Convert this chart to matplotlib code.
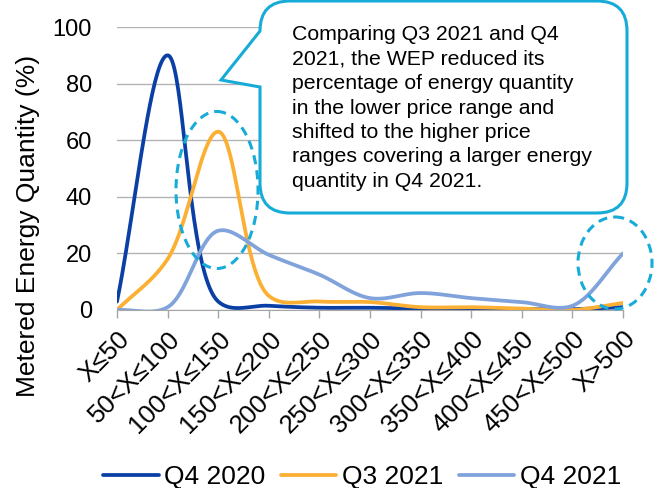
import numpy as np
import matplotlib
matplotlib.use("Agg")
import matplotlib.pyplot as plt
from matplotlib.path import Path
from matplotlib.patches import PathPatch, Ellipse
from matplotlib.transforms import Affine2D

plt.rcParams["font.family"] = ["Liberation Sans", "DejaVu Sans"]

# ── Data ──────────────────────────────────────────────────────────────────────
categories = ["X≤50", "50<X≤100", "100<X≤150", "150<X≤200", "200<X≤250",
              "250<X≤300", "300<X≤350", "350<X≤400", "400<X≤450",
              "450<X≤500", "X>500"]
q4_2020 = [3, 90, 3, 1.5, 0.8, 0.8, 0.5, 0.5, 0.3, 0.3, 1]
q3_2021 = [0, 18, 63, 5, 3, 2.8, 1, 1, 0.5, 0, 2.5]
q4_2021 = [0, 1, 28, 19.5, 12.5, 4.2, 6, 4.2, 2.8, 1.5, 20]
series_names = ["Q4 2020", "Q3 2021", "Q4 2021"]
series_colors = ["#0A3FA6", "#FBB034", "#7FA3DA"]

callout_lines = [
    "Comparing Q3 2021 and Q4",
    "2021, the WEP reduced its",
    "percentage of energy quantity",
    "in the lower price range and",
    "shifted to the higher price",
    "ranges covering a larger energy",
    "quantity in Q4 2021.",
]

W, H = 661, 488
CYAN = "#17ABD8"


def smooth(y, sx, sy, n=40, alpha=0.5):
    # smoothed line: centripetal Catmull-Rom computed in screen-pixel space
    y = np.asarray(y, dtype=float)
    P = np.column_stack([np.arange(len(y)) * sx, y * sy])
    P = np.vstack([2 * P[0] - P[1], P, 2 * P[-1] - P[-2]])
    out = []
    for i in range(1, len(P) - 2):
        p0, p1, p2, p3 = P[i - 1], P[i], P[i + 1], P[i + 2]
        t0 = 0.0
        t1 = t0 + np.linalg.norm(p1 - p0) ** alpha
        t2 = t1 + np.linalg.norm(p2 - p1) ** alpha
        t3 = t2 + np.linalg.norm(p3 - p2) ** alpha
        t = np.linspace(t1, t2, n, endpoint=False)[:, None]
        a1 = (t1 - t) / (t1 - t0) * p0 + (t - t0) / (t1 - t0) * p1
        a2 = (t2 - t) / (t2 - t1) * p1 + (t - t1) / (t2 - t1) * p2
        a3 = (t3 - t) / (t3 - t2) * p2 + (t - t2) / (t3 - t2) * p3
        b1 = (t2 - t) / (t2 - t0) * a1 + (t - t0) / (t2 - t0) * a2
        b2 = (t3 - t) / (t3 - t1) * a2 + (t - t1) / (t3 - t1) * a3
        out.append((t2 - t) / (t2 - t1) * b1 + (t - t1) / (t2 - t1) * b2)
    out.append(P[-2][None, :])
    out = np.vstack(out)
    return out[:, 0] / sx, out[:, 1] / sy


fig = plt.figure(figsize=(W / 100, H / 100), dpi=100)
ax = fig.add_axes([117 / W, 1 - 310 / H, (623 - 117) / W, (310 - 27) / H])

ncat = len(categories)
px_x = (623 - 117) / (ncat - 1)
px_y = (310 - 27) / 100
for vals, name, col in zip([q4_2020, q3_2021, q4_2021], series_names, series_colors):
    xs, ys = smooth(vals, px_x, px_y)
    ax.plot(xs, ys, color=col, lw=2.7, label=name, solid_capstyle="round")

ax.set_xlim(0, ncat - 1)
ax.set_ylim(0, 100)
ax.set_yticks(np.arange(0, 101, 20))
ax.yaxis.grid(True, color="#B3B3B3", lw=1)
ax.set_axisbelow(True)
ax.tick_params(axis="y", length=0, labelsize=17, pad=18)
ax.tick_params(axis="x", length=6, color="#A6A6A6", width=1, labelsize=18.5, pad=6)
ax.set_xticks(range(ncat))
ax.set_xticklabels(categories, rotation=45, ha="right", va="top", rotation_mode="anchor")
for s in ["left", "right", "top"]:
    ax.spines[s].set_visible(False)
ax.spines["bottom"].set_color("#A6A6A6")

fig.text(28 / W, 1 - 226 / H, "Metered Energy Quantity (%)", rotation=90,
         ha="center", va="center", fontsize=19)

# cut-off title at the very top (only the descenders show)
fig.text(-9 / W, 1 + 7 / H, "Energy Quantity", fontsize=19, fontweight="bold",
         color="#1E50B8", ha="left", va="baseline")

# ── Callout bubble (pixel coords, y down) ─────────────────────────────────────
pix = Affine2D().scale(1, -1).translate(0, H)
L, R, T, B, r = 260, 627, 1, 213, 30
verts = [(L, 87), (L, B - r), (L, B), (L + r, B), (R - r, B), (R, B), (R, B - r),
         (R, T + r), (R, T), (R - r, T), (L + r, T), (L, T), (L, T + r),
         (221, 80), (L, 87), (L, 87)]
codes = [Path.MOVETO, Path.LINETO, Path.CURVE3, Path.CURVE3, Path.LINETO,
         Path.CURVE3, Path.CURVE3, Path.LINETO, Path.CURVE3, Path.CURVE3,
         Path.LINETO, Path.CURVE3, Path.CURVE3, Path.LINETO, Path.LINETO,
         Path.CLOSEPOLY]
bubble = PathPatch(Path(verts, codes), facecolor="white", edgecolor=CYAN, lw=2.2,
                   transform=pix, zorder=5)
fig.patches.append(bubble)

for i, line in enumerate(callout_lines):
    fig.text(292 / W, 1 - (40 + 24.5 * i) / H, line, fontsize=15.3,
             ha="left", va="baseline", zorder=6)

# dashed highlight ellipses
for cx, cy, ew, eh in [(217, 190, 82, 157), (615, 263, 74, 92)]:
    e = Ellipse((cx, cy), ew, eh, fill=False, edgecolor=CYAN, lw=2.2,
                linestyle=(0, (3, 2)), transform=pix, zorder=7)
    fig.patches.append(e)

fig.legend(loc="center", bbox_to_anchor=(362 / W, 1 - 477 / H), ncol=3,
           frameon=False, fontsize=19, handlelength=2.1, handletextpad=0.2,
           columnspacing=0.6, borderpad=0)

fig.savefig("out.png", dpi=100)
